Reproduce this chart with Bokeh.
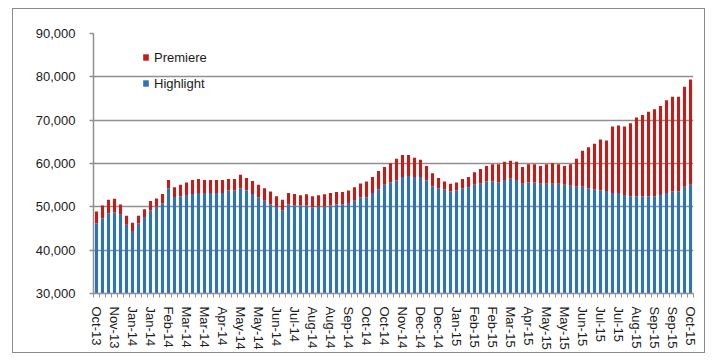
from bokeh.plotting import figure
from bokeh.models import Range1d, FixedTicker, NumeralTickFormatter, Legend, LegendItem, ColumnDataSource
from bokeh.embed import file_html
from bokeh.resources import INLINE

tick_labels = ["Oct-13", "Nov-13", "Jan-14", "Jan-14", "Feb-14", "Mar-14", "Mar-14", "Apr-14",
               "May-14", "May-14", "Jun-14", "Jul-14", "Aug-14", "Aug-14", "Sep-14", "Oct-14",
               "Oct-14", "Nov-14", "Dec-14", "Dec-14", "Jan-15", "Feb-15", "Feb-15", "Mar-15",
               "Apr-15", "May-15", "May-15", "Jun-15", "Jul-15", "Jul-15", "Aug-15", "Sep-15",
               "Sep-15", "Oct-15"]

highlight = [46180, 47340, 48520, 48670, 48200, 45860, 44450, 46180, 47660, 49140,
             50080, 50780, 54300, 52270, 52420, 52730, 52970, 53200, 53200, 53200,
             53200, 53200, 53750, 53750, 54300, 53750, 52970, 52190, 51410, 50550,
             50000, 49220, 50550, 50350, 50310, 50310, 49850, 50080, 50080, 50310,
             50550, 50550, 50860, 51410, 52190, 52190, 53200, 54060, 55080, 55630,
             56090, 56880, 57110, 56880, 56880, 56090, 54770, 54300, 54060, 53520,
             53750, 54300, 54530, 55080, 55310, 55860, 55900, 55630, 56170, 56490,
             56170, 55310, 55630, 55630, 55310, 55310, 55310, 55310, 55080, 54840,
             54610, 54610, 54300, 54060, 53830, 53670, 53200, 53200, 52730, 52420,
             52420, 52420, 52420, 52420, 52730, 53200, 53520, 53520, 54610, 55080]

premiere = [2720, 2970, 3120, 3210, 2350, 2110, 1880, 1790, 1790, 2190,
            1870, 2190, 1870, 2260, 2660, 2900, 3200, 3210, 2970, 2970,
            2970, 2970, 2660, 2660, 3120, 2890, 2970, 2890, 2890, 2970,
            2420, 2420, 2650, 2620, 2350, 2580, 2570, 2580, 2810, 2890,
            2890, 2890, 2890, 3120, 3200, 3670, 3680, 4220, 4140, 4450,
            5000, 5070, 4840, 4450, 3980, 3360, 2960, 2340, 1800, 1790,
            1880, 2110, 2350, 2890, 3440, 3590, 3940, 4210, 4220, 4140,
            4220, 3910, 4210, 4210, 4140, 4530, 4770, 4530, 4370, 5000,
            6480, 8360, 9450, 10470, 11720, 11640, 15310, 15550, 15780, 16870,
            18200, 18750, 19530, 20080, 20550, 21410, 21870, 21870, 23120, 24290]

y_ticks = [30000, 40000, 50000, 60000, 70000, 80000, 90000]

BLUE = "#2E74B5"
RED = "#C01E1B"
GRID = "#909090"
TEXT = "#1a1a1a"
FONT = "Liberation Sans"

n = len(highlight)
src = ColumnDataSource(dict(x=list(range(n)), highlight=highlight, premiere=premiere))

p = figure(frame_width=600, frame_height=260, output_backend="svg", toolbar_location=None,
           x_range=Range1d(-0.5, n - 0.5), y_range=Range1d(30000, 90000))
p.min_border_left = 80
p.min_border_right = 11
p.min_border_top = 24
p.min_border_bottom = 58
p.margin = (8, 0, 0, 12)
p.styles = {"border": "1px solid #8a8a8a"}
p.outline_line_color = None
p.background_fill_color = "white"
p.border_fill_color = "white"

rs = p.vbar_stack(["highlight", "premiere"], x="x", width=0.52, source=src,
                  color=[BLUE, RED], line_color=None)

# y axis
p.yaxis.ticker = FixedTicker(ticks=y_ticks)
p.yaxis.formatter = NumeralTickFormatter(format="0,0")
p.yaxis.axis_line_color = GRID
p.yaxis.axis_line_width = 1.5
p.yaxis.major_tick_line_color = GRID
p.yaxis.major_tick_line_width = 1.5
p.yaxis.major_tick_out = 4
p.yaxis.major_tick_in = 0
p.yaxis.minor_tick_line_color = None
p.yaxis.major_label_standoff = 14
p.yaxis.major_label_text_font = FONT
p.yaxis.major_label_text_font_size = "13px"
p.yaxis.major_label_text_color = TEXT

# x axis
major = [i * 3 for i in range(len(tick_labels))]
minor = [i - 0.5 for i in range(n + 1)]
p.xaxis.ticker = FixedTicker(ticks=major, minor_ticks=minor)
p.xaxis.major_label_overrides = {m: lab for m, lab in zip(major, tick_labels)}
p.xaxis.major_label_orientation = -1.5707963267948966
p.xaxis.axis_line_color = GRID
p.xaxis.axis_line_width = 1.5
p.xaxis.major_tick_line_color = None
p.xaxis.major_tick_out = 0
p.xaxis.major_tick_in = 0
p.xaxis.minor_tick_line_color = GRID
p.xaxis.minor_tick_out = 4
p.xaxis.minor_tick_in = 0
p.xaxis.major_label_standoff = 9
p.xaxis.major_label_text_font = FONT
p.xaxis.major_label_text_font_size = "13px"
p.xaxis.major_label_text_color = TEXT

# grid
p.xgrid.grid_line_color = None
p.ygrid.ticker = FixedTicker(ticks=y_ticks)
p.ygrid.grid_line_color = GRID
p.ygrid.grid_line_width = 1.5

legend = Legend(items=[LegendItem(label="Premiere", renderers=[rs[1]]),
                       LegendItem(label="Highlight", renderers=[rs[0]])],
                location=(49, 202), orientation="vertical",
                glyph_width=7, glyph_height=8, label_height=16, spacing=10,
                label_standoff=5, padding=0, margin=0,
                border_line_color=None, background_fill_alpha=0,
                label_text_font=FONT, label_text_font_size="13px", label_text_color=TEXT)
p.add_layout(legend)

open("out.html", "w").write(file_html(p, INLINE))
